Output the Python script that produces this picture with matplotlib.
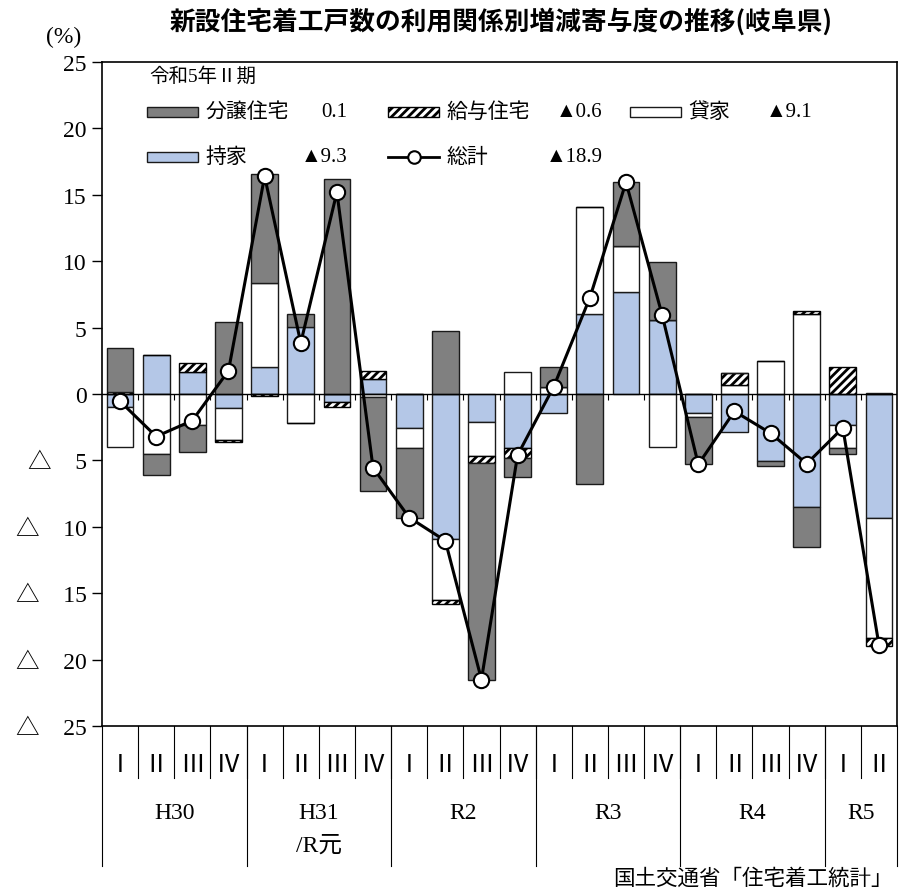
import numpy as np
import matplotlib
matplotlib.use("Agg")
import matplotlib.pyplot as plt
from matplotlib.patches import Rectangle
from matplotlib.lines import Line2D
from matplotlib.transforms import blended_transform_factory

plt.rcParams['font.family'] = ['Liberation Serif', 'Noto Sans CJK JP']
plt.rcParams['hatch.linewidth'] = 2.0

# data (寄与度, %)
quarters = ['Ⅰ', 'Ⅱ', 'Ⅲ', 'Ⅳ'] * 5 + ['Ⅰ', 'Ⅱ']
years = ['H30', 'H31\n/R元', 'R2', 'R3', 'R4', 'R5']
year_len = [4, 4, 4, 4, 4, 2]

mochiie = [-1.0, 2.9, 1.65, -1.05, 2.0, 5.05, -0.6, 1.1,
           -2.55, -10.9, -2.1, -4.05, -1.45, 6.05, 7.7, 5.6,
           -1.45, -2.85, -5.05, -8.5, -2.3, -9.3]
kashiya = [-3.0, -4.5, -2.35, -2.4, 6.35, -2.15, 0.0, -0.2,
           -1.55, -4.6, -2.55, 1.65, 0.55, 8.0, 3.45, -4.0,
           -0.25, 0.65, 2.45, 6.0, -1.8, -9.1]
kyuyo = [0.15, 0.0, 0.7, -0.2, -0.15, -0.05, -0.4, 0.65,
         0.0, -0.3, -0.55, -0.75, 0.0, 0.0, 0.0, 0.0,
         0.0, 0.9, 0.0, 0.25, 2.05, -0.6]
bunjo = [3.3, -1.6, -2.0, 5.4, 8.2, 1.0, 16.2, -7.1,
         -5.2, 4.75, -16.3, -1.45, 1.45, -6.8, 4.8, 4.35,
         -3.6, 0.0, -0.35, -3.0, -0.45, 0.1]
total = [-0.55, -3.2, -2.0, 1.75, 16.4, 3.85, 15.2, -5.55,
         -9.3, -11.05, -21.5, -4.6, 0.55, 7.25, 15.95, 5.95,
         -5.3, -1.3, -2.95, -5.25, -2.55, -18.9]

series = [
    ('持家', mochiie, dict(facecolor='#B4C7E7', edgecolor='#1a1a1a')),
    ('貸家', kashiya, dict(facecolor='white', edgecolor='#1a1a1a')),
    ('給与住宅', kyuyo, dict(facecolor='white', edgecolor='black', hatch='////')),
    ('分譲住宅', bunjo, dict(facecolor='#808080', edgecolor='#1a1a1a')),
]

fig = plt.figure(figsize=(9.01, 8.95), dpi=100)
ax = fig.add_axes([0.1132, 0.1877, 0.8824, 0.7419])

x = np.arange(len(quarters))
pos = np.zeros(len(x))
neg = np.zeros(len(x))
for name, vals, style in series:
    v = np.array(vals)
    bottom = np.where(v >= 0, pos, neg)
    ax.bar(x, v, 0.74, bottom=bottom, linewidth=1.0, zorder=2, **style)
    pos = np.where(v >= 0, pos + v, pos)
    neg = np.where(v < 0, neg + v, neg)

ax.plot(x, total, color='black', lw=2.2, marker='o', markersize=11,
        markerfacecolor='white', markeredgecolor='black', markeredgewidth=1.5, zorder=4)

ax.axhline(0, color='black', lw=1.0, zorder=3)
ax.vlines(x[:-1] + 0.5, -0.45, 0, color='black', lw=0.8, zorder=3)

ax.set_xlim(-0.5, len(x) - 0.5)
ax.set_ylim(-25, 25)
yt = np.arange(-25, 26, 5)
ax.set_yticks(yt)
ax.set_yticklabels([str(v) if v >= 0 else '△\u3000' + str(-v) for v in yt], fontsize=17)
ax.tick_params(axis='y', direction='out', length=7, width=1, pad=4)
for s in ax.spines.values():
    s.set_linewidth(1.2)

# category axis below
ax.set_xticks(x)
ax.set_xticklabels(quarters, fontsize=18)
ax.tick_params(axis='x', length=0, pad=20)
tr = blended_transform_factory(ax.transData, ax.transAxes)
for b in x[:-1] + 0.5:
    ax.plot([b, b], [0, -0.079], color='black', lw=0.8, transform=tr, clip_on=False)
edges = np.concatenate([[0], np.cumsum(year_len)]) - 0.5
for e in edges:
    ax.plot([e, e], [0, -0.211], color='black', lw=0.8, transform=tr, clip_on=False)
for i, yl in enumerate(years):
    c = (edges[i] + edges[i + 1]) / 2
    ax.text(c, -0.114, yl, transform=tr, ha='center', va='top', fontsize=17,
            linespacing=1.75)

# legend (令和5年Ⅱ期 values)
def fmt(v):
    return f'{v:.1f}' if v >= 0 else f'▲{-v:.1f}'

ax.text(0.060, 0.979, '令和5年Ⅱ期', transform=ax.transAxes, fontsize=14, va='center')
leg = [
    (0.0566, 0.925, 0.309, '分譲住宅', bunjo, 'bar', series[3][2]),
    (0.360, 0.925, 0.630, '給与住宅', kyuyo, 'bar', series[2][2]),
    (0.664, 0.925, 0.893, '貸家', kashiya, 'bar', series[1][2]),
    (0.0566, 0.857, 0.309, '持家', mochiie, 'bar', series[0][2]),
    (0.360, 0.857, 0.630, '総計', total, 'line', None),
]
for lx, ly, vx, name, vals, kind, style in leg:
    if kind == 'bar':
        ax.add_patch(Rectangle((lx, ly - 0.0075), 0.064, 0.015, transform=ax.transAxes,
                               linewidth=1.0, clip_on=False, zorder=5, **style))
    else:
        ax.add_line(Line2D([lx, lx + 0.064], [ly, ly], transform=ax.transAxes, color='black',
                           lw=2.0, zorder=5))
        ax.plot([lx + 0.032], [ly], transform=ax.transAxes, marker='o', markersize=9,
                markerfacecolor='white', markeredgecolor='black', markeredgewidth=1.5, zorder=6)
    ax.text(lx + 0.073, ly, name, transform=ax.transAxes, fontsize=15, va='center')
    ax.text(vx, ly, fmt(vals[-1]), transform=ax.transAxes, fontsize=15, va='center', ha='right')

fig.text(0.556, 0.975, '新設住宅着工戸数の利用関係別増減寄与度の推移(岐阜県)',
         ha='center', va='center', fontsize=18.5, fontweight='bold', family='Noto Sans CJK JP')
fig.text(0.071, 0.958, '(%)', ha='center', va='center', fontsize=17)
fig.text(0.991, 0.017, '国土交通省「住宅着工統計」', ha='right', va='center', fontsize=15.5)

fig.savefig('out.png', dpi=100)
